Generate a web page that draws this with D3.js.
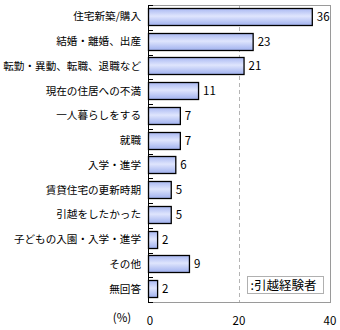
<!DOCTYPE html>
<html>
<head>
<meta charset="utf-8">
<script src="https://cdn.jsdelivr.net/npm/d3@7"></script>
<style>
  html, body { margin: 0; padding: 0; background: #fff; }
  svg { display: block; }
  text { font-family: "Noto Sans CJK JP", "Noto Sans", sans-serif; fill: #000; }
</style>
</head>
<body>
<div id="chart"></div>
<script>
// Reasons for moving (multiple answers, %)
const categories = [
  "住宅新築/購入",
  "結婚・離婚、出産",
  "転勤・異動、転職、退職など",
  "現在の住居への不満",
  "一人暮らしをする",
  "就職",
  "入学・進学",
  "賃貸住宅の更新時期",
  "引越をしたかった",
  "子どもの入園・入学・進学",
  "その他",
  "無回答"
];
const values = [36, 23, 21, 11, 7, 7, 6, 5, 5, 2, 9, 2];
const xTicks = [0, 20, 40];
const seriesName = ":引越経験者";
const unitLabel = "(%)";

const W = 340, H = 330;
const plot = { left: 148, right: 331, top: 5, bottom: 302 };

const svg = d3.select("#chart").append("svg")
  .attr("width", W).attr("height", H);

const defs = svg.append("defs");
const grad = defs.append("linearGradient")
  .attr("id", "barGrad").attr("x1", 0).attr("y1", 0).attr("x2", 0).attr("y2", 1);
grad.append("stop").attr("offset", "0%").attr("stop-color", "#a9b8f2");
grad.append("stop").attr("offset", "45%").attr("stop-color", "#dfe5fd");
grad.append("stop").attr("offset", "100%").attr("stop-color", "#9fb0ee");

const x = d3.scaleLinear().domain([0, 40]).range([plot.left, plot.right - 1]);
const y = d3.scaleBand().domain(categories)
  .range([plot.top, plot.bottom])
  .paddingInner(0.3).paddingOuter(0.15).align(0.4);

// plot frame
svg.append("rect")
  .attr("x", plot.left + 0.5).attr("y", plot.top + 0.5)
  .attr("width", plot.right - plot.left - 1).attr("height", plot.bottom - plot.top)
  .attr("fill", "none").attr("stroke", "#9a9a9a").attr("stroke-width", 1);

// vertical grid at inner ticks
svg.append("g").selectAll("line")
  .data(xTicks.filter(t => t > 0 && t < 40))
  .join("line")
  .attr("x1", d => Math.round(x(d)) + 0.5).attr("x2", d => Math.round(x(d)) + 0.5)
  .attr("y1", plot.top + 1).attr("y2", plot.bottom)
  .attr("stroke", "#b4b4b4").attr("stroke-dasharray", "4,3");

// bars
svg.append("g").selectAll("rect")
  .data(values)
  .join("rect")
  .attr("x", x(0) + 0.5)
  .attr("y", (d, i) => Math.round(y(categories[i])) + 0.5)
  .attr("width", d => x(d) - x(0))
  .attr("height", Math.round(y.bandwidth()))
  .attr("fill", "url(#barGrad)")
  .attr("stroke", "#000").attr("stroke-width", 1.3);

// value labels
svg.append("g").selectAll("text")
  .data(values)
  .join("text")
  .attr("x", d => x(d) + 5)
  .attr("y", (d, i) => y(categories[i]) + y.bandwidth() / 2)
  .attr("dy", "0.36em")
  .attr("font-size", 11.5)
  .text(d => d);

// category axis: line and band-boundary ticks pointing inward
const boundaries = d3.range(categories.length + 1)
  .map(i => plot.top + (plot.bottom - plot.top) * i / categories.length);
svg.append("line")
  .attr("x1", plot.left + 0.5).attr("x2", plot.left + 0.5)
  .attr("y1", plot.top).attr("y2", plot.bottom + 1)
  .attr("stroke", "#000");
svg.append("g").selectAll("line")
  .data(boundaries)
  .join("line")
  .attr("x1", plot.left).attr("x2", plot.left + 5)
  .attr("y1", d => Math.round(d) + 0.5).attr("y2", d => Math.round(d) + 0.5)
  .attr("stroke", "#000");

// category labels
svg.append("g").selectAll("text")
  .data(categories)
  .join("text")
  .attr("x", 141)
  .attr("y", d => y(d) + y.bandwidth() / 2)
  .attr("dy", "0.36em")
  .attr("text-anchor", "end")
  .attr("font-size", 10.6)
  .text(d => d);

// value axis labels
svg.append("g").selectAll("text")
  .data(xTicks)
  .join("text")
  .attr("x", d => x(d) + (d === 0 ? 2 : 0))
  .attr("y", 321)
  .attr("dy", "0.36em")
  .attr("text-anchor", "middle")
  .attr("font-size", 11.5)
  .text(d => d);

svg.append("text")
  .attr("x", 122).attr("y", 318).attr("dy", "0.36em")
  .attr("text-anchor", "middle").attr("font-size", 11.5)
  .text(unitLabel);

// legend
const lg = svg.append("g").attr("transform", "translate(247.5,276.5)");
lg.append("rect").attr("width", 76).attr("height", 17)
  .attr("fill", "#fff").attr("stroke", "#b0b0b0");
lg.append("text").attr("x", 3).attr("y", 8.5).attr("dy", "0.36em")
  .attr("font-size", 12.5).text(seriesName);
</script>
</body>
</html>
